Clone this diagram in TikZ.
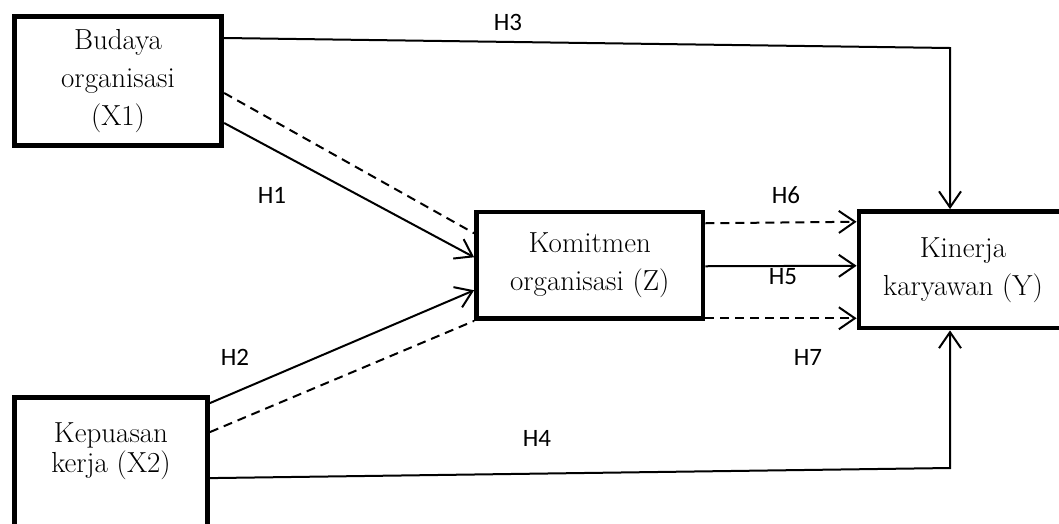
\documentclass[tikz,border=0pt]{standalone}
\usepackage{fontspec}
\newfontfamily\lblfont{Carlito}
\usetikzlibrary{arrows.meta,calc}
\begin{document}
\begin{tikzpicture}[%
  x = 1pt, y = -1pt,
  box/.style = {draw, line width = 4.8pt, align = center, inner sep = 0pt,
    font = \fontsize{29}{38}\selectfont},
  hyp/.style = {font = \lblfont\fontsize{25}{28}\selectfont},
  link/.style = {line width = 2pt},
  dashlink/.style = {link, dash pattern = on 9pt off 6pt},
  tip/.style = {-{Straight Barb[length = 16pt, width = 22pt]}}]
  \useasboundingbox (0, 0) rectangle (1059, 523);

  \node[box, minimum width = 207.5, minimum height = 129.5] (x1) at (118, 81) {Budaya\\organisasi\\(X1)};
  \node[box, anchor = north, minimum width = 193, inner ysep = 25pt, text depth = 50pt,
    font = \fontsize{29}{30}\selectfont] (x2) at (111, 395.1) {Kepuasan\\kerja (X2)};
  \node[box, minimum width = 226.5, minimum height = 106.5] (z) at (589.75, 265.25) {Komitmen\\organisasi (Z)};
  \node[box, minimum width = 208, minimum height = 116.5] (y) at (963, 269.75) {Kinerja\\karyawan (Y)};

  \coordinate (c3) at (950, 48);
  \coordinate (c4) at (950, 468);

  \draw[link, tip] ($(x1.east) + (0, -43)$) -- (c3) -- (y.north -| c3);
  \draw[link, tip] ($(x1.east) + (0, 42)$) -- ($(z.west) + (0, -8)$);
  \draw[dashlink] ($(x1.east) + (0, 12)$) -- ($(z.west) + (0, -32)$);
  \draw[link, tip] ($(x2.north east) + (0, 8)$) -- ($(z.west) + (0, 25)$);
  \draw[dashlink] ($(x2.north east) + (0, 37)$) -- (z.south west);
  \draw[link, tip] ($(x2.north east) + (0, 83)$) -- (c4) -- (y.south -| c4);
  \draw[dashlink, tip] ($(z.east) + (0, -42)$) -- ($(y.west) + (0, -48)$);
  \draw[link, tip] ($(z.east) + (0, 1)$) -- ($(y.west) + (0, -4)$);
  \draw[dashlink, tip] ($(z.east) + (0, 53)$) -- ($(y.west) + (0, 48.5)$);

  \node[hyp] (h1) at (272, 195) {H1};
  \node[hyp] (h2) at (235, 357) {H2};
  \node[hyp] (h3) at (508, 22) {H3};
  \node[hyp] (h4) at (537, 438) {H4};
  \node[hyp] (h5) at (783, 277) {H5};
  \node[hyp] (h6) at (786, 195) {H6};
  \node[hyp] (h7) at (808, 357) {H7};
\end{tikzpicture}
\end{document}
